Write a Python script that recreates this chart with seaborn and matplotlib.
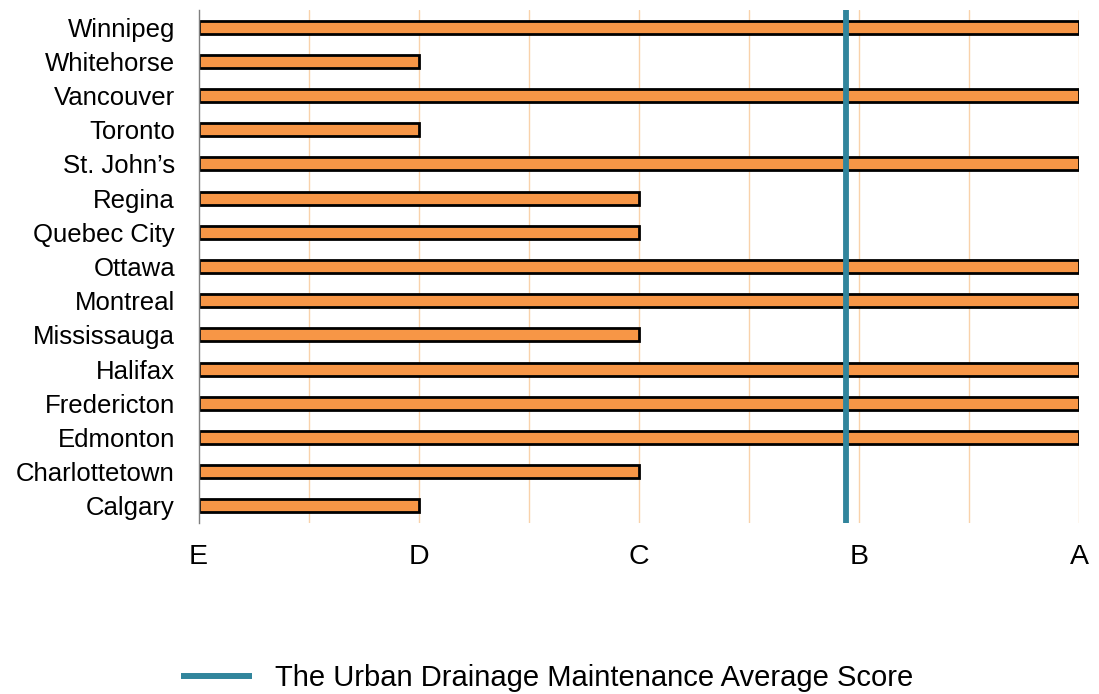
import matplotlib
matplotlib.use("Agg")
import matplotlib.pyplot as plt
import seaborn as sns
import pandas as pd
import numpy as np
from matplotlib.lines import Line2D

cities = ["Winnipeg", "Whitehorse", "Vancouver", "Toronto", "St. John\u2019s", "Regina",
          "Quebec City", "Ottawa", "Montreal", "Mississauga", "Halifax", "Fredericton",
          "Edmonton", "Charlottetown", "Calgary"]
scores = [4, 1, 4, 1, 4, 2, 2, 4, 4, 2, 4, 4, 4, 2, 1]
grade_ticks = [0, 1, 2, 3, 4]
grade_labels = ["E", "D", "C", "B", "A"]
average_score = 2.94
legend_label = "The Urban Drainage Maintenance Average Score"

sns.set_style("white")
plt.rcParams['font.family'] = ['Liberation Sans', 'DejaVu Sans']
plt.rcParams['text.color'] = 'black'
plt.rcParams['xtick.color'] = 'black'
plt.rcParams['ytick.color'] = 'black'

df = pd.DataFrame({"city": cities, "score": scores})

fig = plt.figure(figsize=(10.99, 6.94), dpi=100)
ax = fig.add_axes([198.5/1099, 1 - 523/694, 880.5/1099, 513/694])

# grid lines
for gx in np.arange(0.5, 4.01, 0.5):
    ax.axvline(gx, color="#f9d2ab", lw=1.0, zorder=0)

sns.barplot(data=df, x="score", y="city", orient="h", order=cities,
            color="#f79646", saturation=1, edgecolor="black", linewidth=2,
            width=0.38, ax=ax, zorder=2)

ax.axvline(average_score, color="#31859c", lw=4.2, zorder=3)

ax.set_xlim(0, 4)
ax.set_ylim(14.5, -0.5)
ax.set_xlabel("")
ax.set_ylabel("")
ax.set_xticks(grade_ticks)
ax.set_xticklabels(grade_labels, fontsize=20.5, color="black")
ax.tick_params(axis="x", length=0, pad=15)
ax.tick_params(axis="y", which="major", length=0, labelsize=18.5, pad=17, labelcolor="black")
ax.set_yticks(np.arange(-0.5, 15, 1), minor=True)
ax.tick_params(axis="y", which="minor", length=6, color="#7f7f7f", width=1, direction="out")

for s in ["top", "right", "bottom"]:
    ax.spines[s].set_visible(False)
ax.spines["left"].set_color("#7f7f7f")
ax.spines["left"].set_linewidth(1)

handle = Line2D([0], [0], color="#31859c", lw=4.3, solid_capstyle="butt")
fig.legend([handle], [legend_label], loc="center", bbox_to_anchor=(547/1099, 1 - 678/694),
           frameon=False, fontsize=21, handlelength=2.45, handletextpad=0.78,
           labelcolor="black")

fig.savefig("out.png", dpi=100)
